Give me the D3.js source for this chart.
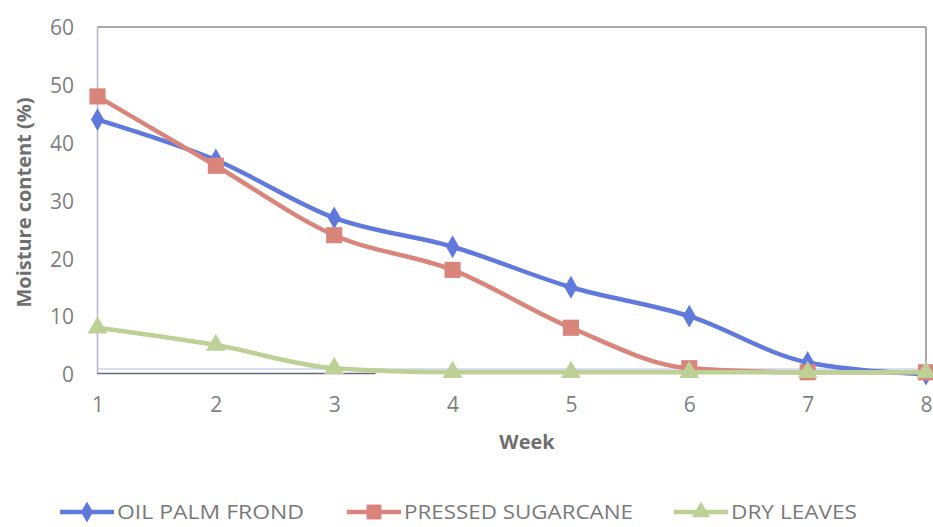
<!DOCTYPE html>
<html><head><meta charset="utf-8">
<script src="https://cdn.jsdelivr.net/npm/d3@7"></script>
<style>
body{margin:0;background:#fff;}
svg{display:block;}
text{font-family:"Open Sans","Liberation Sans",sans-serif;}
</style></head>
<body><svg id="c" width="933" height="527"></svg>
<script>
const weeks = [1,2,3,4,5,6,7,8];
const oilPalmFrond = [44,37,27,22,15,10,2,0];
const pressedSugarcane = [48,36,24,18,8,1,0.3,0.3];
const dryLeaves = [8,5,1,0.3,0.3,0.3,0.3,0.3];
const yTicks = [0,10,20,30,40,50,60];
const seriesNames = ["OIL PALM FROND","PRESSED SUGARCANE","DRY LEAVES"];
const seriesColors = ["#6079dc","#d9857b","#bdd096"];
const seriesSymbols = ["diamond","square","triangle"];

const svg = d3.select("#c");
const x = d3.scaleLinear().domain([1,8]).range([97.5,926]);
const y = d3.scaleLinear().domain([0,60]).range([374,27]);

// frame
svg.append("line").attr("x1",x(1)).attr("x2",x(8)).attr("y1",y(60)).attr("y2",y(60)).attr("stroke","#8c8c8c").attr("stroke-width",1.5);
svg.append("line").attr("x1",x(8)).attr("x2",x(8)).attr("y1",y(60)).attr("y2",y(0)-5).attr("stroke","#8c8c8c").attr("stroke-width",1.5);
svg.append("line").attr("x1",x(1)).attr("x2",x(1)).attr("y1",y(60)).attr("y2",y(0)).attr("stroke","#b5b5c8").attr("stroke-width",1.5);
svg.append("line").attr("x1",x(1)).attr("x2",x(8)).attr("y1",y(0)-5).attr("y2",y(0)-5).attr("stroke","#b8bde2").attr("stroke-width",1.2);
svg.append("line").attr("x1",x(1)).attr("x2",x(3.35)).attr("y1",y(0)-0.5).attr("y2",y(0)-0.5).attr("stroke","#6a6a78").attr("stroke-width",1.5);

// axes
const yAxis = d3.axisLeft(y).tickValues(yTicks).tickSize(0).tickPadding(0);
const gy = svg.append("g").attr("transform","translate(74,1)").call(yAxis);
gy.select(".domain").remove();
gy.selectAll("text").attr("fill","#808080").style("font-size","21px");

const xAxis = d3.axisBottom(x).tickValues(weeks).tickFormat(d3.format("d")).tickSize(0).tickPadding(0);
const gx = svg.append("g").attr("transform","translate(0,397)").call(xAxis);
gx.select(".domain").remove();
gx.selectAll("text").attr("fill","#808080").style("font-size","21px").attr("dy","0.71em");

svg.append("text").attr("transform","translate(31,"+((y(0)+y(60))/2+2)+") rotate(-90)")
  .attr("text-anchor","middle").attr("fill","#6f6f6f").style("font-size","20px").style("font-weight","bold")
  .text("Moisture content (%)");
svg.append("text").attr("x",527).attr("y",449).attr("text-anchor","middle").attr("fill","#6f6f6f")
  .style("font-size","20px").style("font-weight","bold").text("Week");

const allSeries = [oilPalmFrond, pressedSugarcane, dryLeaves];
const line = d3.line().x((d,i)=>x(weeks[i])).y(d=>y(d)).curve(d3.curveMonotoneX);
const symType = {diamond:d3.symbolDiamond, square:d3.symbolSquare, triangle:d3.symbolTriangle};
const symSize = {diamond:150, square:260, triangle:170};

allSeries.forEach((vals,k)=>{
  svg.append("path").datum(vals).attr("d",line).attr("fill","none")
    .attr("stroke",seriesColors[k]).attr("stroke-width",4.5).attr("stroke-linejoin","round");
  svg.append("g").selectAll("path").data(vals).join("path")
    .attr("transform",(d,i)=>"translate("+x(weeks[i])+","+y(d)+")")
    .attr("d",d3.symbol().type(symType[seriesSymbols[k]]).size(symSize[seriesSymbols[k]]))
    .attr("fill",seriesColors[k]);
});

// legend
const legX = [60,347,674];
const legW = [187,229,126];
const leg = svg.append("g");
seriesNames.forEach((name,k)=>{
  const g = leg.append("g").attr("transform","translate("+legX[k]+",512)");
  g.append("line").attr("x1",0).attr("x2",54).attr("stroke",seriesColors[k]).attr("stroke-width",4.5);
  g.append("path").attr("transform","translate(27,0)")
   .attr("d",d3.symbol().type(symType[seriesSymbols[k]]).size(symSize[seriesSymbols[k]]*0.85))
   .attr("fill",seriesColors[k]);
  g.append("text").attr("x",57).attr("y",0).attr("dy","0.36em").attr("fill","#7a7a7a")
   .attr("textLength",legW[k]).attr("lengthAdjust","spacingAndGlyphs")
   .style("font-size","20px").text(name);
});
</script></body></html>
